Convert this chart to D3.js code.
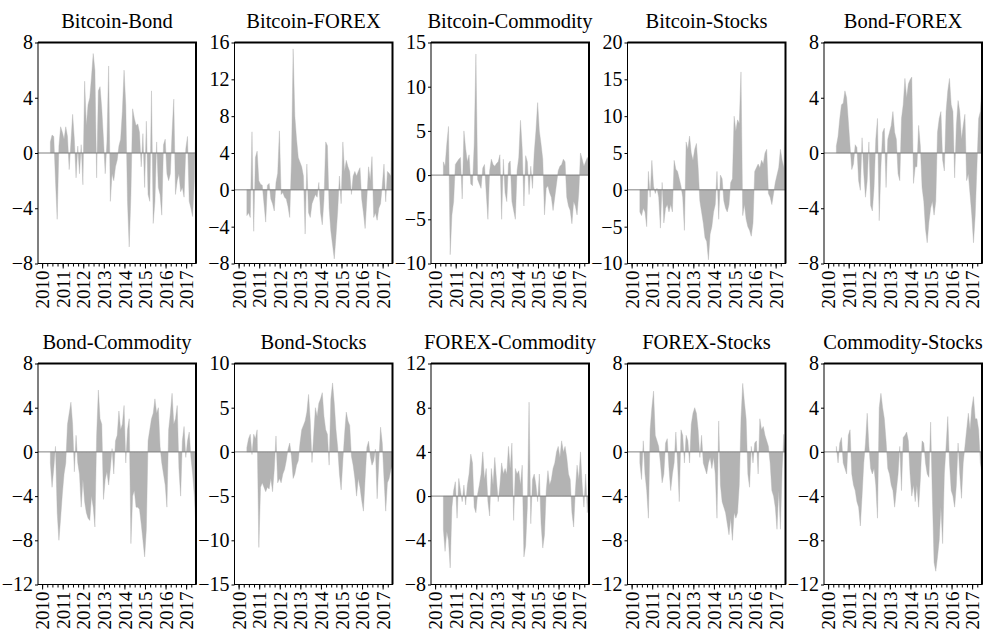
<!DOCTYPE html>
<html lang="en">
<head>
  <meta charset="UTF-8">
  <title>Rolling spillovers</title>
  <style>
    body { margin: 0; background: #ffffff }
    #thesvg { width: 994px; height: 636px; display: block; background: #ffffff }
  </style>
</head>
<body>
  <svg id="thesvg"></svg>
  <script src="https://d3js.org/d3.v7.min.js"></script>
  <script>

    // monthly observations, the first one around mid 2010
    var firstObs = 2010.4;
    var years = [2010, 2011, 2012, 2013, 2014, 2015, 2016, 2017];

    var titles = ["Bitcoin-Bond", "Bitcoin-FOREX", "Bitcoin-Commodity", "Bitcoin-Stocks", "Bond-FOREX",
                  "Bond-Commodity", "Bond-Stocks", "FOREX-Commodity", "FOREX-Stocks", "Commodity-Stocks"];

    var yDomains = [[-8, 8], [-8, 16], [-10, 15], [-10, 20], [-8, 8],
                    [-12, 8], [-15, 10], [-8, 12], [-12, 8], [-12, 8]];

    var yTicks = [[-8, -4, 0, 4, 8], [-8, -4, 0, 4, 8, 12, 16], [-10, -5, 0, 5, 10, 15],
                  [-10, -5, 0, 5, 10, 15, 20], [-8, -4, 0, 4, 8],
                  [-12, -8, -4, 0, 4, 8], [-15, -10, -5, 0, 5, 10], [-8, -4, 0, 4, 8, 12],
                  [-12, -8, -4, 0, 4, 8], [-12, -8, -4, 0, 4, 8]];

    var bitcoinBond = [0.8, 1.3, 1.2, -2.0, -4.8, 0.5, 1.9, 1.5, 1.0, 1.9, 1.2,
      -1.2, 0.8, 2.8, 1.0, -1.8, 0.5, -1.5, 0.6, -2.3, 5.2, 2.0, 3.5,
      4.0, 5.5, 7.2, 6.0, -1.8, 4.5, 4.8, 3.2, 1.0, -1.5, 0.8, 6.3,
      -3.5, -1.5, -2.0, -1.0, -0.5, 0.5, 1.0, 3.0, 6.0, 3.5, -3.5, -6.8,
      -3.0, 3.2, 2.5, 2.0, 2.1, 1.5, -1.0, 1.4, -2.5, 2.3, -3.0, -3.5,
      4.5, -5.1, -3.5, 0.8, -2.5, -3.0, -4.5, 0.6, 1.0, -1.5, -2.0, -1.5,
      1.5, 3.9, -3.0, -2.0, -1.5, -2.8, -2.5, -3.2, 0.3, 1.2, -3.5, -4.0,
      -4.6, -2.0, 3.0];

    var bitcoinForex = [-2.8, -2.5, -3.0, 6.3, -4.5, 3.5, 4.2, 1.0, 0.6, 0.5,
      -1.5, -3.5, 0.5, 0.7, -1.0, -1.5, -2.3, 0.8, 1.8, 6.4,
      -0.5, -0.3, -0.8, -1.0, -1.8, -3.0, 3.0, 15.3, 8.0, 5.5,
      3.5, 3.0, 2.5, 1.5, -4.8, 2.8, -2.5, -3.0, -1.5, -1.0,
      -0.5, -0.8, 0.8, -2.5, -3.8, -1.0, 5.2, 4.8, -2.0, -4.5,
      -6.0, -7.5, -5.0, -2.3, 1.5, -1.5, 5.2, 2.0, 3.2, 2.5,
      2.0, -0.5, 1.5, 2.0, 1.5, 2.0, 2.4, -1.0, -2.5, -4.2,
      -1.0, 2.5, 1.0, 3.6, -3.0, -2.5, -3.3, -2.0, -1.5, 0.5,
      2.8, -1.3, 2.0, 1.8, 1.5, 15.5];

    var bitcoinCommodity = [1.5, 1.0, 3.5, 5.5, -9.0, -4.5, -3.0, 1.2, 1.5, 1.8,
      2.0, -2.7, 5.0, 3.0, 1.5, 2.3, -1.0, -1.2, 3.5, 13.7,
      -0.5, -1.0, -1.5, 0.8, 1.2, -2.0, -5.0, 0.5, 1.8, 1.2,
      1.0, 1.3, 1.5, 2.3, -5.0, 1.8, -2.0, -3.0, 1.3, 1.6,
      -3.0, -4.0, -5.0, 0.5, 2.0, 6.2, 3.0, -3.5, 2.2, 1.5,
      -2.2, 1.0, -1.5, 2.5, 5.0, 8.2, 5.0, 3.5, 1.8, -4.5,
      -1.5, -1.2, -2.0, -2.5, -4.0, -2.5, -1.0, 0.5, 1.0, 1.2,
      1.8, 1.5, -2.5, -3.5, -4.0, -5.5, -3.0, -3.5, -4.5, -2.0,
      2.5, 1.8, 1.0, 1.5, 2.0, 1.5];

    var bitcoinStocks = [-3.0, -3.5, -2.5, -3.0, -5.0, 2.5, -1.0, 4.0, 0.5, -0.5,
      0.2, -1.0, -5.2, 1.0, -4.5, -2.5, -2.0, -3.0, -2.0, -3.0,
      4.0, 2.8, 2.5, 1.5, 0.5, -1.0, -5.5, 6.5, 5.5, 7.3,
      5.0, 4.0, 5.5, 6.3, 3.0, -1.5, -3.0, -4.5, -6.5, -7.0,
      -9.5, -6.0, -5.0, -3.0, -2.0, 2.5, -4.0, 2.0, 1.5, -1.5,
      -2.5, -3.0, -2.0, 1.0, 1.5, 10.0, 8.0, 9.5, 9.0, 16.0,
      -3.5, -2.0, -4.0, -5.0, -5.5, -6.3, -4.5, 2.5, 3.0, 3.5,
      3.0, 4.0, 3.5, 5.0, 5.5, -0.5, -1.0, -2.0, -0.5, 1.0,
      2.0, 3.0, 5.5, 4.0, 3.0, 14.0];

    var bondForex = [0.5, 1.2, 2.5, 3.5, 3.6, 4.5, 4.0, 2.3, 0.5, -1.2,
      -0.8, 0.6, 0.4, -2.0, -2.7, 1.1, -1.5, -3.2, -2.0, 0.8,
      -3.8, -4.2, -2.5, 1.0, 2.5, -4.9, -1.0, 1.5, 1.8, -2.5,
      1.0, 1.5, 2.0, 3.0, 1.5, 1.0, -1.5, -2.0, 2.5, 3.5,
      5.4, 4.0, 5.0, 5.3, 5.5, -2.2, -1.0, -1.0, 2.0, 0.5,
      -2.5, -3.5, -5.5, -6.5, -5.0, -4.0, -3.5, -4.5, -3.5, 1.5,
      2.5, 3.0, -0.5, -1.3, 3.0, 4.5, 5.4, 3.5, 3.0, -1.8,
      2.0, 3.8, 3.0, 1.0, 2.0, 2.8, -2.0, -1.5, -3.0, -4.5,
      -6.5, -4.5, -1.0, 2.5, 3.0, 5.0];

    var bondCommodity = [-1.0, -3.2, -1.5, 0.5, -5.5, -8.0, -6.0, -3.8, -2.0, -1.0,
      2.5, 3.5, 4.5, 2.5, -1.8, 1.5, -1.0, -2.0, -5.0, -2.5,
      -4.5, -5.5, -6.0, -6.2, -4.0, -5.0, -6.8, 1.5, 5.6, 3.0,
      2.5, -4.3, -2.5, -1.8, -3.0, -1.5, 0.3, -2.0, 1.0, 1.5,
      3.7, 2.0, 2.5, 4.2, -1.0, 2.0, 3.0, -8.3, -4.0, -3.5,
      -5.0, -5.0, -5.2, -6.5, -8.0, -9.5, -7.0, 1.0, 2.0, 3.0,
      3.5, 4.8, 3.5, 4.0, 0.5, -1.0, -2.0, -3.0, -5.0, 2.0,
      3.5, 5.3, 2.5, 3.0, 4.2, -1.5, -4.0, 1.0, 2.3, -0.5,
      1.0, 1.8, -0.5, -2.0, -4.0, -7.0];

    var bondStocks = [0.5, 1.5, 2.0, -0.3, 2.0, 1.5, 2.5, -10.8, -4.0, -3.5,
      -4.0, -4.5, -4.0, -4.2, -3.0, -4.5, -2.0, 1.8, -3.5, -3.0,
      -3.5, -2.5, -2.0, -1.0, 0.3, 1.0, -0.5, -3.0, -2.5, -1.5,
      -1.0, 1.0, 2.5, 3.0, 3.5, 4.5, 6.5, 3.5, -1.2, 2.0,
      5.0, 4.0, 5.5, 6.0, 6.7, 4.0, 2.5, 2.0, -1.5, 6.0,
      7.8, 5.5, 2.5, 0.5, -2.5, -4.3, -1.0, 2.0, 4.5, 3.5,
      3.0, -0.5, -1.5, -3.0, -5.0, -3.0, -4.0, -5.5, -6.7, -3.0,
      0.5, 1.2, -0.5, -1.5, -1.0, 0.3, -5.3, -1.0, 2.8, 1.0,
      -3.0, -6.7, -3.5, -3.0, -2.0, -1.5];

    var forexCommodity = [-3.0, -5.0, -3.2, -4.0, -6.5, -1.0, 0.5, 1.3, -2.0, 1.6,
      0.5, -0.5, 1.0, -0.8, 1.0, 2.0, 3.8, 3.0, -1.0, -1.5,
      0.2, 1.0, 2.0, 4.0, 1.5, 2.5, -0.5, -1.8, 2.5, 1.0,
      3.5, 1.5, -0.5, 1.0, 3.0, 2.0, 2.5, 2.0, 4.5, 2.5,
      4.8, -2.2, 2.5, 2.0, 2.3, 1.0, 2.8, -5.5, -4.5, -1.0,
      8.5, -2.5, 1.5, 2.0, 1.0, -0.5, 2.0, -2.5, -4.7, -3.5,
      0.5, 2.3, 1.0, 1.5, 2.5, 3.0, 4.0, 4.5, 3.5, 5.0,
      4.0, 4.5, 3.5, 2.0, 1.5, -1.5, -2.8, 0.5, 2.8, 1.5,
      4.0, 1.0, -1.0, 2.0, -1.5, 1.0];

    var forexStocks = [-1.0, -2.5, 1.0, -2.0, -3.5, -6.0, 2.0, 4.0, 5.5, 1.5,
      1.0, 0.5, -1.0, -2.8, -2.0, 0.8, 1.2, -1.5, -3.5, -2.0,
      -1.0, 1.8, -1.0, -4.5, 2.0, 1.5, -1.0, 1.5, 1.0, -1.0,
      2.5, 3.5, 4.0, 3.5, 2.0, -0.5, 1.5, -1.0, -1.5, -2.0,
      -1.0, -0.5, -1.5, -0.5, -2.0, -6.0, 2.8, -3.0, -4.5, -5.0,
      -5.5, -6.5, -7.5, -6.0, -8.0, -5.5, -6.0, -5.5, -3.0, 3.0,
      6.2, 4.5, 3.0, -2.0, -3.2, 0.5, -1.0, 0.8, 1.0, -2.0,
      3.0, 2.0, 2.3, 1.5, 1.0, 0.5, -1.0, -3.5, -4.0, -5.0,
      -7.0, -3.5, -7.0, -1.5, 1.6, -0.5];

    var commodityStocks = [0.5, -1.0, 0.8, 1.3, -1.0, -1.5, -2.0, 1.5, 2.0, -2.0,
      -3.0, -3.5, -4.5, -5.0, -6.7, -4.0, -1.0, 0.8, 3.5, 0.5,
      -1.5, -2.0, -1.5, -3.0, -6.0, 4.0, 5.3, 4.0, 3.0, 1.0,
      -1.5, -2.0, -3.0, -3.5, -5.0, -3.5, -2.0, 0.5, -3.5, 1.3,
      1.5, 1.8, 1.0, -2.0, -4.0, -3.0, -4.5, -3.0, -5.0, -2.5,
      1.0, 0.8, -1.0, -2.0, -2.3, 2.7, -4.0, -10.0, -10.8, -9.5,
      -8.0, -5.0, -8.3, -2.0, 0.5, 3.2, -1.0, -3.5, -4.0, -5.0,
      -3.0, 0.8, -2.0, -4.2, -1.0, 0.5, 2.0, 3.5, 2.0, 4.0,
      5.0, 3.0, 3.0, 2.0, -1.0, -2.0];

    var series = [bitcoinBond, bitcoinForex, bitcoinCommodity, bitcoinStocks, bondForex,
                  bondCommodity, bondStocks, forexCommodity, forexStocks, commodityStocks];

    var serif = '"Liberation Serif", "Times New Roman", serif';
    var svg = d3.select("#thesvg");

    var frameW = 158, frameH = 221;
    var colLeft = [38, 234.5, 431, 627.5, 824];
    var rowTop = [42.5, 363.5];

    var x = d3.scaleLinear().domain([2009.8, 2017.48]).range([0, frameW]);
    var quarters = d3.range(2010, 2017.3, 0.25);

    series.forEach(function(values, k) {
      var g = svg.append("g")
        .attr("transform", "translate(" + colLeft[k % 5] + "," + rowTop[Math.floor(k / 5)] + ")");

      var y = d3.scaleLinear().domain(yDomains[k]).range([frameH, 0]);

      var area = d3.area()
        .x(function(d, i) { return x(firstObs + i / 12); })
        .y0(y(0))
        .y1(function(d) { return y(d); });

      g.append("path")
        .datum(values)
        .attr("d", area)
        .attr("fill", "#b3b3b3")
        .attr("stroke", "#b3b3b3")
        .attr("stroke-width", 0.4);

      // zero line
      g.append("line")
        .attr("x1", 0).attr("x2", frameW)
        .attr("y1", y(0)).attr("y2", y(0))
        .attr("stroke", "#808080")
        .attr("stroke-width", 1);

      // frame, heavier on top and right
      g.append("rect")
        .attr("width", frameW).attr("height", frameH)
        .attr("fill", "none").attr("stroke", "#000").attr("stroke-width", 1);
      g.append("path")
        .attr("d", "M0,0H" + frameW + "V" + frameH)
        .attr("fill", "none").attr("stroke", "#000").attr("stroke-width", 2);

      // y axis
      var ya = g.append("g")
        .call(d3.axisLeft(y).tickValues(yTicks[k]).tickSize(3).tickPadding(2).tickFormat(d3.format("d")));
      ya.select(".domain").remove();
      ya.attr("font-family", serif).attr("font-size", 20);
      ya.selectAll("text").style("font-family", serif).style("font-size", "20px").attr("fill", "#000");

      // x axis: quarterly minor ticks, yearly labels
      var xm = g.append("g")
        .attr("transform", "translate(0," + frameH + ")")
        .call(d3.axisBottom(x).tickValues(quarters).tickSize(3).tickFormat(""));
      xm.select(".domain").remove();

      var xa = g.append("g")
        .attr("transform", "translate(0," + frameH + ")")
        .call(d3.axisBottom(x).tickValues(years).tickSize(5).tickFormat(d3.format("d")));
      xa.select(".domain").remove();
      xa.attr("font-family", serif).attr("font-size", 19);
      xa.selectAll("text")
        .attr("transform", "rotate(-90)")
        .attr("text-anchor", "end")
        .attr("x", -7).attr("y", 0).attr("dy", "0.35em")
        .style("font-family", serif).style("font-size", "19px").attr("fill", "#000");

      g.append("text")
        .attr("x", frameW / 2).attr("y", -15)
        .attr("text-anchor", "middle")
        .style("font-family", serif)
        .style("font-size", "20.5px")
        .text(titles[k]);
    });
  </script>
</body>
</html>
